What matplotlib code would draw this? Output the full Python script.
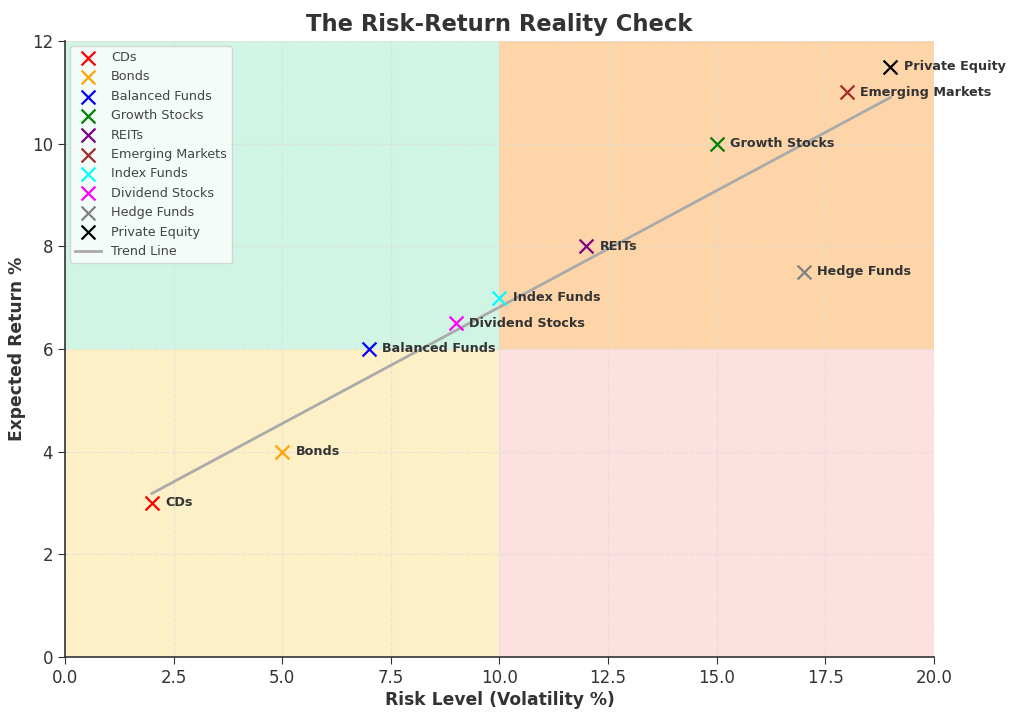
import matplotlib
matplotlib.use("Agg")
import matplotlib.pyplot as plt
import numpy as np

# investment types: risk (volatility %) vs expected return %
names = ["CDs", "Bonds", "Balanced Funds", "Growth Stocks", "REITs",
         "Emerging Markets", "Index Funds", "Dividend Stocks", "Hedge Funds", "Private Equity"]
risk = [2, 5, 7, 15, 12, 18, 10, 9, 17, 19]
ret = [3, 4, 6, 10, 8, 11, 7, 6.5, 7.5, 11.5]
colors = ["red", "orange", "blue", "green", "purple",
          "brown", "cyan", "magenta", "gray", "black"]

txt = "#333333"
plt.rcParams["text.color"] = txt
plt.rcParams["axes.labelcolor"] = txt
plt.rcParams["xtick.color"] = txt
plt.rcParams["ytick.color"] = txt

fig = plt.figure(figsize=(10.24, 7.17), dpi=100)
ax = fig.add_axes([0.0635, 0.0837, 0.8485, 0.8593])

# quadrant shading
ax.fill_between([0, 10], 6, 12, color="#d0f5e4", zorder=0, linewidth=0)
ax.fill_between([10, 20], 6, 12, color="#fdd5a8", zorder=0, linewidth=0)
ax.fill_between([0, 10], 0, 6, color="#fdf0c6", zorder=0, linewidth=0)
ax.fill_between([10, 20], 0, 6, color="#fde0e0", zorder=0, linewidth=0)

for n, x, y, c in zip(names, risk, ret, colors):
    ax.scatter(x, y, marker="x", s=100, color=c, linewidths=1.6, label=n, zorder=3)
    ax.annotate(n, (x, y), xytext=(9.5, 0), textcoords="offset points",
                fontsize=9.2, fontweight="bold", color=txt, va="center", zorder=4)

# linear trend
k, b = np.polyfit(risk, ret, 1)
xs = np.array([min(risk), max(risk)])
ax.plot(xs, k * xs + b, color="#aaaaaa", linewidth=2, label="Trend Line", zorder=2)

ax.set_xlim(0, 20)
ax.set_ylim(0, 12)
ax.grid(True, linestyle="--", color="#dddddd", linewidth=0.8, alpha=0.7)
ax.set_axisbelow(True)
for s in ["top", "right"]:
    ax.spines[s].set_visible(False)
for s in ["left", "bottom"]:
    ax.spines[s].set_color(txt)
    ax.spines[s].set_linewidth(1.2)
ax.tick_params(labelsize=12, length=5)

ax.set_title("The Risk-Return Reality Check", fontsize=16.3, fontweight="bold", pad=7)
ax.set_xlabel("Risk Level (Volatility %)", fontsize=12.3, fontweight="bold", labelpad=3)
ax.set_ylabel("Expected Return %", fontsize=12.3, fontweight="bold", labelpad=4)

leg = ax.legend(loc="upper left", fontsize=9.2, framealpha=0.75, borderaxespad=0.4,
                labelspacing=0.5)
for t in leg.get_texts():
    t.set_color("#444444")

fig.savefig("out.png", dpi=100)
